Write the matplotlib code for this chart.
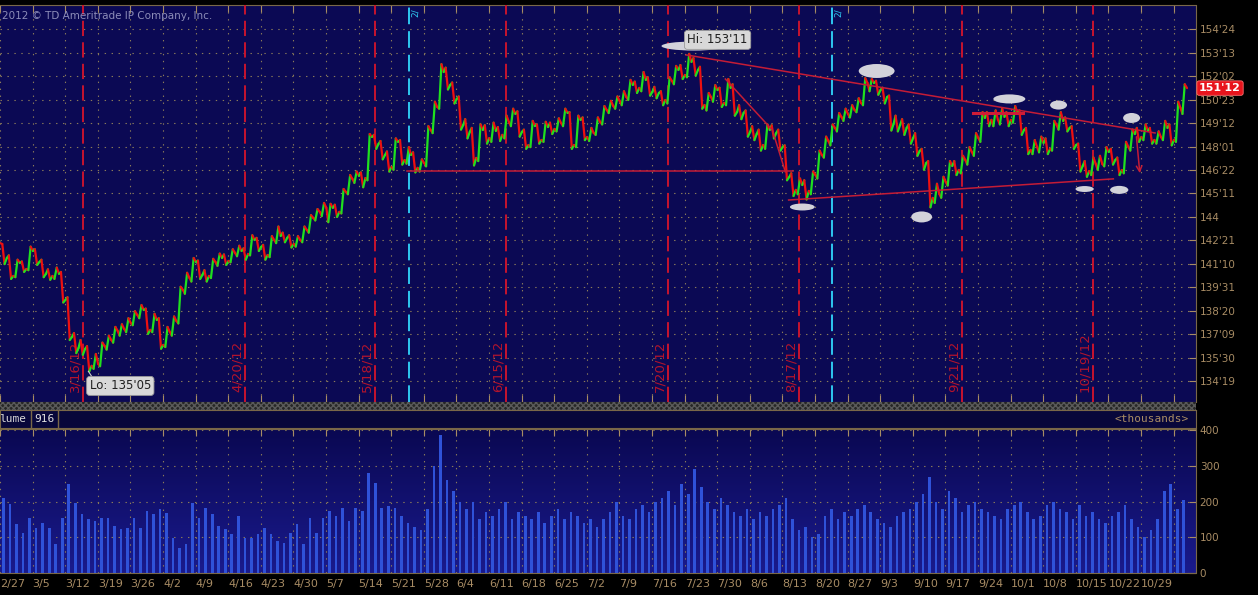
import matplotlib.pyplot as plt
import numpy as np
import pandas as pd
from matplotlib.collections import LineCollection
from matplotlib.patches import Ellipse, Rectangle
from matplotlib.colors import LinearSegmentedColormap
from matplotlib.transforms import blended_transform_factory

# daily bars of the bond future, 2/27/12 .. 11/6/12
dates = pd.bdate_range("2012-02-27", periods=182)
closes = [
    141.65, 140.62, 141.37, 141.02, 142.05, 141.42, 140.74, 140.62, 140.74, 139.25,
    137.13, 136.50, 136.44, 135.47, 135.58, 136.61, 136.96, 137.47, 137.58, 137.93,
    138.39, 138.67, 137.53, 138.10, 136.67, 137.41, 138.04, 139.82, 140.51, 141.42,
    140.68, 140.62, 141.42, 141.65, 141.48, 141.94, 142.05, 141.88, 142.68, 142.28,
    141.82, 142.68, 142.91, 142.80, 142.45, 142.68, 143.26, 143.94, 144.29, 144.52,
    144.52, 144.29, 145.43, 146.18, 146.35, 146.23, 148.58, 148.18, 147.55, 146.86,
    148.30, 147.26, 147.55, 146.81, 147.09, 148.98, 150.30, 152.30, 151.56, 150.76,
    149.27, 148.87, 147.38, 148.98, 148.52, 148.93, 148.70, 149.44, 149.90, 148.87,
    148.12, 149.21, 148.41, 149.15, 149.04, 149.38, 149.96, 148.12, 149.56, 148.58,
    148.81, 149.44, 150.13, 150.36, 150.64, 150.87, 151.56, 151.39, 151.85, 151.16,
    151.10, 150.70, 151.79, 152.42, 152.13, 152.88, 152.42, 150.41, 150.87, 151.27,
    150.53, 151.39, 150.01, 149.96, 148.87, 148.75, 148.12, 148.98, 148.81, 148.01,
    146.29, 145.55, 145.83, 145.49, 146.41, 147.55, 148.35, 149.10, 149.73, 149.90,
    150.13, 150.53, 151.67, 151.67, 151.27, 150.87, 149.33, 149.27, 149.10, 148.52,
    147.78, 147.09, 145.09, 145.32, 146.00, 146.92, 146.69, 147.26, 147.72, 148.52,
    149.67, 149.56, 149.56, 149.73, 149.56, 149.96, 148.98, 147.84, 148.01, 148.24,
    147.89, 149.27, 149.50, 149.10, 148.12, 146.92, 146.63, 147.04, 147.04, 147.72,
    147.26, 146.69, 148.01, 148.75, 148.58, 148.93, 148.41, 148.58, 149.10, 148.41,
    150.24, 151.38,
]
highs = [
    142.45, 141.80, 141.55, 141.45, 142.30, 142.15, 141.55, 141.00, 141.10, 140.85,
    139.40, 137.35, 136.95, 136.60, 136.15, 136.80, 137.20, 137.70, 137.85, 138.20,
    138.60, 138.95, 138.75, 138.45, 138.20, 137.70, 138.30, 140.00, 140.80, 141.65,
    141.50, 140.95, 141.60, 141.90, 141.85, 142.15, 142.35, 142.20, 142.95, 142.80,
    142.40, 142.90, 143.45, 143.10, 142.95, 142.90, 143.45, 144.10, 144.45, 144.80,
    144.75, 144.70, 145.60, 146.40, 146.60, 146.55, 148.75, 148.70, 148.35, 147.75,
    148.50, 148.40, 148.00, 147.70, 147.30, 149.20, 150.60, 152.75, 152.55, 151.70,
    150.90, 149.60, 149.10, 149.30, 149.25, 149.40, 149.15, 149.80, 150.20, 150.05,
    149.00, 149.50, 149.30, 149.45, 149.40, 149.65, 150.20, 150.00, 149.80, 149.70,
    149.10, 149.70, 150.35, 150.65, 150.90, 151.20, 151.85, 151.75, 152.30, 152.00,
    151.45, 151.20, 152.00, 152.65, 152.70, 153.34, 153.10, 152.60, 151.10, 151.55,
    151.40, 151.90, 151.60, 150.40, 150.10, 149.20, 149.00, 149.30, 149.25, 149.00,
    148.10, 146.50, 146.20, 146.10, 146.60, 147.80, 148.60, 149.30, 149.95, 150.20,
    150.40, 150.80, 151.95, 151.90, 151.80, 151.40, 150.95, 149.80, 149.60, 149.30,
    148.80, 147.90, 147.20, 145.90, 146.30, 147.20, 147.20, 147.50, 148.00, 148.80,
    150.00, 150.00, 150.10, 150.20, 150.00, 150.35, 150.10, 149.10, 148.40, 148.60,
    148.50, 149.50, 150.00, 149.70, 149.20, 148.20, 147.20, 147.40, 147.50, 148.00,
    147.90, 147.40, 148.30, 149.00, 149.10, 149.30, 149.10, 148.90, 149.50, 149.30,
    150.60, 151.60,
]
lows = [
    141.30, 140.45, 140.55, 140.85, 140.95, 141.25, 140.55, 140.40, 140.45, 139.10,
    136.95, 136.20, 136.10, 135.16, 135.30, 135.45, 136.40, 136.80, 137.20, 137.40,
    137.80, 138.20, 137.30, 137.40, 136.45, 136.55, 137.20, 137.90, 139.60, 140.30,
    140.45, 140.30, 140.50, 141.20, 141.25, 141.40, 141.75, 141.55, 141.80, 142.05,
    141.55, 141.70, 142.50, 142.55, 142.25, 142.30, 142.55, 143.10, 143.80, 144.05,
    143.70, 144.00, 144.20, 145.30, 145.95, 145.70, 146.10, 147.90, 147.30, 146.60,
    146.70, 147.00, 147.05, 146.55, 146.60, 146.90, 148.80, 150.20, 151.30, 150.50,
    149.00, 148.50, 146.95, 147.20, 148.20, 148.30, 148.35, 148.50, 149.20, 148.60,
    147.90, 148.00, 148.20, 148.30, 148.75, 148.90, 149.20, 147.90, 148.00, 148.40,
    148.35, 148.70, 149.30, 149.95, 150.20, 150.40, 150.70, 151.10, 151.20, 150.95,
    150.80, 150.40, 150.50, 151.60, 151.90, 152.00, 152.10, 150.20, 150.10, 150.60,
    150.30, 150.40, 149.80, 149.60, 148.60, 148.40, 147.80, 147.90, 148.50, 147.80,
    146.10, 145.20, 145.30, 145.00, 145.30, 146.20, 147.40, 148.10, 148.90, 149.50,
    149.70, 150.00, 150.40, 151.20, 151.00, 150.50, 148.95, 148.90, 148.70, 148.20,
    147.50, 146.70, 144.55, 144.80, 145.10, 145.80, 146.40, 146.50, 147.00, 147.50,
    148.30, 149.20, 149.20, 149.30, 149.20, 149.40, 148.70, 147.60, 147.60, 147.70,
    147.60, 147.80, 149.00, 148.90, 147.90, 146.60, 146.30, 146.40, 146.70, 146.90,
    147.00, 146.40, 146.50, 147.80, 148.30, 148.40, 148.20, 148.20, 148.40, 148.10,
    148.30, 149.90,
]
first_open = 142.50
# peak volume per day, thousands
volume = [
    211, 192, 136, 113, 155, 127, 141, 127, 80, 155,
    248, 197, 164, 150, 146, 155, 155, 132, 122, 127,
    155, 127, 174, 164, 178, 169, 99, 71, 80, 197,
    155, 183, 164, 132, 122, 108, 160, 99, 99, 108,
    127, 108, 90, 85, 113, 136, 80, 155, 113, 155,
    174, 160, 183, 146, 183, 174, 281, 253, 183, 188,
    183, 160, 140, 130, 120, 180, 300, 385, 260, 230,
    200, 180, 200, 150, 170, 160, 180, 200, 150, 170,
    160, 150, 170, 140, 160, 180, 150, 170, 160, 140,
    150, 130, 150, 170, 200, 160, 150, 180, 190, 170,
    200, 210, 230, 190, 250, 220, 290, 240, 200, 180,
    210, 190, 170, 160, 180, 150, 170, 160, 180, 190,
    210, 150, 120, 130, 100, 110, 160, 180, 150, 170,
    160, 180, 190, 170, 150, 140, 130, 160, 170, 180,
    200, 220, 270, 200, 180, 230, 210, 170, 190, 200,
    180, 170, 160, 150, 180, 190, 200, 170, 150, 160,
    190, 200, 180, 170, 150, 190, 160, 170, 150, 140,
    160, 170, 190, 150, 130, 100, 120, 150, 230, 250,
    180, 205,
]
last_label = "151'12"
hi_label, hi_pos = "Hi: 153'11", (110.0, 154.14)
lo_label, lo_pos = "Lo: 135'05", (18.4, 134.32)

# red event lines (day position) and their labels
event_labels = ["3/16/12", "4/20/12", "5/18/12", "6/15/12", "7/20/12", "8/17/12", "9/21/12", "10/19/12"]
event_x = [12.68, 37.58, 57.52, 77.6, 102.45, 122.5, 147.5, 167.6]
cyan_x = [62.7, 127.6]

# hand drawn trend lines (day, price)
trend_lines = [
    ([105.2, 177.1], [153.28, 148.81]),
    ([62.4, 121.6], [146.63, 146.63]),
    ([120.9, 170.7], [144.97, 146.18]),
    ([111.2, 118.4, 120.4], [151.90, 148.98, 146.58]),
]
top_bar = ([149.2, 156.9], [149.96, 149.96])
arrow = ((174.2, 148.75), (174.8, 146.35))
# marker ellipses: centre day, centre price, width days, height price
ellipses = [
    (134.4, 152.36, 5.5, 0.80), (154.75, 150.76, 4.9, 0.52), (162.3, 150.41, 2.6, 0.52),
    (173.5, 149.67, 2.6, 0.57), (166.3, 145.60, 2.8, 0.34), (171.6, 145.55, 2.8, 0.46),
    (141.3, 144.0, 3.2, 0.63), (123.0, 144.57, 3.8, 0.40), (106.4, 153.79, 10.0, 0.52),
]

BG = "#0b0954"
TAN = "#a88c64"
GRID = "#8a7a5a"
RED = "#c8142e"

plt.rcParams["lines.scale_dashes"] = False
W, H = 1258, 595
fig = plt.figure(figsize=(W / 100, H / 100), dpi=100, facecolor="black")


def box(x0, y0, x1, y1):
    return [x0 / W, 1 - y1 / H, (x1 - x0) / W, (y1 - y0) / H]


ax = fig.add_axes(box(0, 5, 1195.5, 402))
axv = fig.add_axes(box(0, 429, 1195.5, 573))
axh = fig.add_axes(box(0, 410, 1195.5, 428))
axs = fig.add_axes(box(0, 402, 1195.5, 410))

n = len(closes)
xs = np.arange(n) + 0.5
mondays = [i - 0.05 for i, d in enumerate(dates) if d.weekday() == 0]
mon_labels = [f"{d.month}/{d.day}" for d in dates if d.weekday() == 0]

# ---- price panel
ax.set_facecolor(BG)
ax.set_xlim(-0.05, 183.3)
ax.set_ylim(133.40, 156.14)

# each day: open -> first extreme -> second extreme -> close
px, py = [0.0], [first_open]
for i in range(n):
    o = py[-1]
    c = closes[i]
    e1, e2 = (lows[i], highs[i]) if c >= o else (highs[i], lows[i])
    px += [i + 0.3, i + 0.65, i + 1.0]
    py += [e1, e2, c]
pts = np.column_stack([px, py])
segs = np.stack([pts[:-1], pts[1:]], axis=1)
cols = np.where(np.diff(py) >= 0, "#1fe01f", "#ee1010")
ax.add_collection(LineCollection(segs, colors=cols, linewidths=1.6, zorder=4,
                                 capstyle="round", joinstyle="round"))

yt = [144 + k * 43 / 32 for k in range(-7, 9)]


def fmt32(v):
    whole = int(np.floor(v + 1e-9))
    frac = int(round((v - whole) * 32))
    return f"{whole}'{frac:02d}" if frac else f"{whole}"


ax.yaxis.tick_right()
ax.set_yticks(yt, [fmt32(v) for v in yt])
ax.set_xticks(mondays, [])
ax.tick_params(axis="y", direction="in", length=5, pad=3, colors=TAN, labelsize=7.5)
ax.tick_params(axis="x", direction="in", length=5, top=True, bottom=True, colors=TAN)
ax.grid(True, color=GRID, linestyle=(0, (1, 4)), linewidth=0.8)
for s in ax.spines.values():
    s.set_color("#7a6848")
ax.spines["left"].set_visible(False)

for xv, lab in zip(event_x, event_labels):
    ax.axvline(xv, color=RED, lw=1.4, linestyle=(0, (11, 4.5)), zorder=3)
    ax.text(xv - 0.25, 134.0, lab, rotation=90, color="#b4142c", fontsize=9.5,
            ha="right", va="bottom", zorder=3)
for xv in cyan_x:
    ax.axvline(xv, color="#2ec8f0", lw=1.4, linestyle=(0, (12, 5)), zorder=3)
    ax.text(xv + 0.25, 155.95, "2/", rotation=90, color="#2ec8f0", fontsize=6.5,
            ha="left", va="top", zorder=3)

for tx, ty in trend_lines:
    ax.plot(tx, ty, color="#c41c36", lw=1.1, zorder=5)
ax.plot(*top_bar, color="#d01c36", lw=2.2, zorder=5)
ax.annotate("", xy=arrow[1], xytext=arrow[0],
            arrowprops=dict(arrowstyle="->", color="#c41c36", lw=1.1), zorder=5)

for cx, cy, w, h in ellipses:
    ax.add_patch(Ellipse((cx, cy), w, h, fc="#d2d2da", ec="none", zorder=6))

ax.text(*hi_pos, hi_label, fontsize=8.5, color="#202020", ha="center", va="center", zorder=7,
        bbox=dict(boxstyle="round,pad=0.25", fc="#d8d8d8", ec="#9a9a9a", lw=0.6))
ax.plot([13.5, 14.3], [135.16, 134.7], color="#cfcfcf", lw=0.8, zorder=7)
ax.text(*lo_pos, lo_label, fontsize=8.5, color="#202020", ha="center", va="center", zorder=7,
        bbox=dict(boxstyle="round,pad=0.25", fc="#d8d8d8", ec="#9a9a9a", lw=0.6))

ax.text(0.002, (402 - 16) / 397, "2012 \u00a9 TD Ameritrade IP Company, Inc.", transform=ax.transAxes,
        color="#8c8cb8", fontsize=7.5, ha="left", va="center")

tr = blended_transform_factory(ax.transAxes, ax.transData)
ax.text(1.003, closes[-1], last_label, transform=tr, color="white", fontsize=8, fontweight="bold",
        ha="left", va="center", clip_on=False,
        bbox=dict(boxstyle="round,pad=0.2", fc="#e8141c", ec="#ff7070", lw=0.6))

# ---- separator and header
axs.set_facecolor("#1c1c1c")
axs.add_patch(Rectangle((0, 0), 1, 1, transform=axs.transAxes, fc="#262626", ec="#5a5a5a",
                        hatch="xxxxxx", lw=0))
axs.set_xticks([])
axs.set_yticks([])
for s in axs.spines.values():
    s.set_visible(False)

axh.set_facecolor("#08073a")
axh.set_xlim(0, 1195.5)
axh.set_ylim(0, 18)
axh.set_xticks([])
axh.set_yticks([])
for s in axh.spines.values():
    s.set_color("#7a6848")
axh.axvline(31, color="#7a6848", lw=1)
axh.axvline(58, color="#7a6848", lw=1)
axh.text(-1, 9, "lume", color="#d8d8d8", fontsize=8, family="DejaVu Sans Mono", va="center")
axh.text(34, 9, "916", color="#e0e0e0", fontsize=8, family="DejaVu Sans Mono", va="center")
axh.text(1189, 9, "<thousands>", color=TAN, fontsize=8, family="DejaVu Sans Mono",
         va="center", ha="right")

# ---- volume panel
axv.set_xlim(-0.05, 183.3)
axv.set_ylim(0, 403)
grad = np.linspace(0, 1, 100).reshape(-1, 1)
axv.imshow(grad, extent=[-0.05, 183.3, 0, 403], aspect="auto", origin="upper", zorder=0,
           cmap=LinearSegmentedColormap.from_list("g", ["#0a0852", "#1a1a8c"]))
axv.bar(xs, volume, width=0.4, color="#2f52d8", zorder=3)
axv.yaxis.tick_right()
axv.set_yticks([0, 100, 200, 300, 400])
axv.set_xticks(mondays, mon_labels[:-1] + [""])
for t in axv.get_xticklabels():
    t.set_ha("left")
axv.tick_params(axis="y", direction="in", length=5, pad=3, colors=TAN, labelsize=7.5)
axv.tick_params(axis="x", direction="in", length=5, top=True, bottom=False, colors=TAN,
                labelsize=8, pad=4)
axv.grid(True, color=GRID, linestyle=(0, (1, 4)), linewidth=0.8)
for s in axv.spines.values():
    s.set_color("#7a6848")
axv.spines["left"].set_visible(False)

fig.savefig("out.png", dpi=100, facecolor="black")
